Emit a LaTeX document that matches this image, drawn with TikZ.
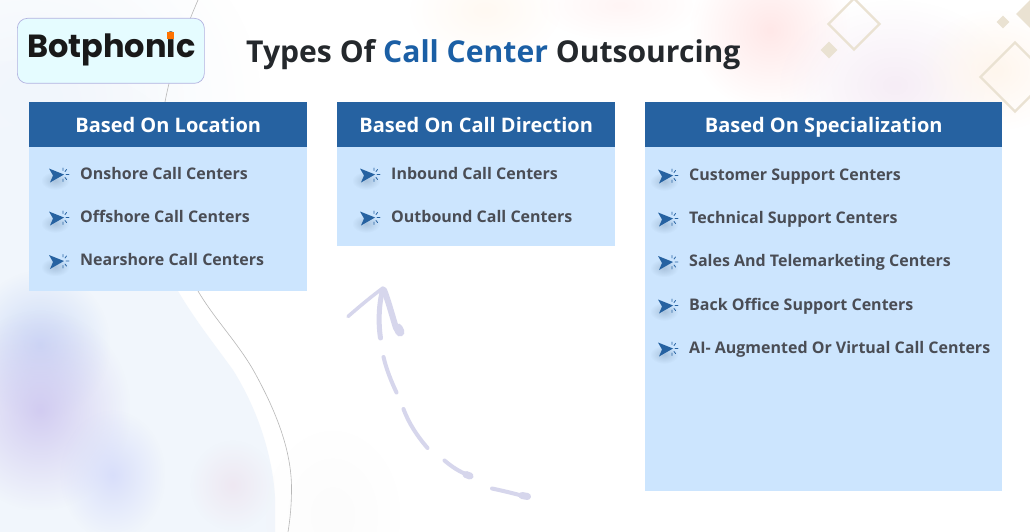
\documentclass[tikz,border=0pt]{standalone}
\usepackage{fontspec}
\setmainfont{Open Sans}
\newfontfamily\logofont{Poppins}
\usetikzlibrary{fadings,shapes.geometric}
\tikzfading[name=blob,inner color=transparent!0,outer color=transparent!100]
\definecolor{hdr}{HTML}{2662A1}
\definecolor{bodyc}{HTML}{CCE5FE}
\definecolor{itemc}{HTML}{4A4D55}
\definecolor{titlec}{HTML}{24282C}
\definecolor{accent}{HTML}{1B5FA5}
\definecolor{dia}{HTML}{EAE2D2}
\definecolor{arrowc}{HTML}{D6D6EC}
\definecolor{tint}{HTML}{F1F6FC}
\definecolor{lilac}{HTML}{CFC8F0}
\definecolor{bluish}{HTML}{BFD0F5}
\definecolor{peri}{HTML}{D6DCFA}
\definecolor{mauve}{HTML}{EEE8F2}
\tikzset{
  x=1pt,y=-1pt,
  hdrbox/.style={fill=hdr,text=white,anchor=north west,inner sep=0,font=\fontsize{20}{24}\selectfont\bfseries,text depth=0pt},
  panel/.style={fill=bodyc,anchor=north west,inner sep=0},
  item/.style={anchor=base west,inner sep=0,text=itemc,font=\fontsize{16}{20}\selectfont\bfseries},
  glow/.style={path fading=blob,fill=#1},
  outdia/.style={draw=dia,line width=2.4pt,line join=miter,fill=none},
  soliddia/.style={fill=dia},
  stroke/.style={draw=arrowc,line cap=round,line join=round,line width=#1},
  pics/dart/.style={code={
    \fill[black!55!hdr,opacity=.18,path fading=blob] (-16,-4) rectangle (12,14);
    \fill[hdr] (-8,-7) -- (7,-1) -- (-7,7) -- (-4,0) -- cycle;
    \draw[hdr,line width=.8pt,line cap=round] (9,-1)--(12,-1) (8,-4)--(9.5,-6) (8,2)--(9.5,4) (6,-5)--(6,-7.5) (6,3.5)--(6,6);
  }},
}
\begin{document}
\begin{tikzpicture}
\useasboundingbox (0,0) rectangle (1030,532);
\fill[white] (0,0) rectangle (1030,532);
% pale tint region
\fill[tint] (0,130) -- (160,130) -- (178,291) .. controls (195,320) and (215,345) .. (233,370) .. controls (255,405) and (272,450) .. (275,497) -- (275,532) -- (0,532) -- cycle;
\fill[glow=tint] (-200,-100) rectangle (260,300);
\fill[glow=tint] (-150,60) rectangle (200,320);
% blobs
\fill[glow=bluish,opacity=.75] (-30,270) rectangle (110,420);
\fill[glow=lilac,opacity=.9] (-50,310) rectangle (130,510);
\fill[glow=peri,opacity=.9] (60,410) rectangle (165,540);
\fill[glow=mauve] (190,440) rectangle (275,530);
\fill[glow=gray!8,opacity=.3] (265,430) rectangle (400,600);
% top right blobs
\fill[glow=red!9!white] (690,-50) rectangle (850,110);
\fill[glow=violet!7!white] (780,0) rectangle (1010,170);
\fill[glow=orange!7!white] (920,10) rectangle (1070,130);
\fill[glow=orange!5!white] (410,-40) rectangle (560,60);
\fill[glow=red!4!white] (540,-30) rectangle (700,40);
% thin curve
\draw[black!28,line width=.6pt] (198,0) .. controls (185,30) and (172,65) .. (165,102) .. controls (170,180) and (180,265) .. (198,291) .. controls (215,320) and (240,345) .. (256,375) .. controls (275,410) and (292,450) .. (291.5,490) .. controls (291.5,505) and (290,520) .. (288,532);
% diamonds
\node[diamond,outdia,minimum width=52,minimum height=52,inner sep=0] (d1) at (854,24) {};
\node[diamond,soliddia,minimum width=17,minimum height=17,inner sep=0] (d2) at (829,50) {};
\node[diamond,outdia,minimum width=70,minimum height=70,inner sep=0] (d3) at (1015,77) {};
\node[diamond,soliddia,minimum width=13,minimum height=13,inner sep=0] (d4) at (1003,22) {};
\node[diamond,soliddia,minimum width=28,minimum height=28,inner sep=0] (d5) at (1030,14) {};
% logo
\node[draw=black!40!blue!30!white,line width=.7pt,fill=blue!10!cyan!10!white,rounded corners=10,anchor=north west,minimum width=187,minimum height=65,inner sep=0] (logo) at (17,18) {};
\node[anchor=base west,inner sep=0,text=black!90,font=\logofont\fontsize{32}{36}\selectfont\bfseries] (logotext) at (27,57.5) {Botphonic};
\fill[orange!90!red] (167,32) rectangle (174,39);
% title
\node[anchor=base west,inner sep=0,text=titlec,font=\fontsize{30.1}{34}\selectfont\bfseries] (title) at (246,63) {Types Of \textcolor{accent}{Call Center} Outsourcing};
% panels
\node[panel,minimum width=278,minimum height=189] (p1) at (29,102) {};
\node[panel,minimum width=278,minimum height=144] (p2) at (337,102) {};
\node[panel,minimum width=357,minimum height=389] (p3) at (645,102) {};
\node[hdrbox,minimum width=278,minimum height=45,align=center] (h1) at (29,102) {Based On Location};
\node[hdrbox,minimum width=278,minimum height=45,align=center] (h2) at (337,102) {Based On Call Direction};
\node[hdrbox,minimum width=357,minimum height=45,align=center] (h3) at (645,102) {Based On Specialization};
% items
\foreach \yy/\t/\n in {173/Onshore Call Centers/a,216/Offshore Call Centers/b,259.5/Nearshore Call Centers/c}{
  \pic at (57,\yy+2.5) {dart};
  \node[item] (l\n) at (80,\yy+6.3) {\t};
}
\foreach \yy/\t/\n in {173/Inbound Call Centers/a,216/Outbound Call Centers/b}{
  \pic at (368,\yy+2.5) {dart};
  \node[item] (m\n) at (391,\yy+6.3) {\t};
}
\foreach \yy/\t/\n in {174/Customer Support Centers/a,217/Technical Support Centers/b,260.5/Sales And Telemarketing Centers/c,304/Back Office Support Centers/d,347/AI- Augmented Or Virtual Call Centers/e}{
  \pic at (666,\yy+2.5) {dart};
  \node[item] (r\n) at (689,\yy+6.3) {\t};
}
% hand-drawn arrow
\draw[stroke=3.5pt] (348,316.5) .. controls (360,306) and (372,296) .. (383,288);
\draw[stroke=5pt] (383,289) .. controls (379,302) and (378,322) .. (380.5,338);
\draw[stroke=6pt] (384,290) .. controls (388,300) and (392,315) .. (396,328);
\draw[stroke=9pt] (398,328) -- (400,332);
\draw[stroke=4pt] (383.5,357) .. controls (386,368) and (391,381) .. (396.5,392.5);
\draw[stroke=4pt] (403.5,409) .. controls (409,424) and (418,437) .. (427.5,448);
\draw[stroke=4pt] (444.5,460.5) .. controls (452,467) and (460,472) .. (468,475);
\draw[stroke=7pt] (466,474.5) -- (470,476);
\draw[stroke=4pt] (492,488.5) .. controls (504,491) and (516,494) .. (525,496.5);
\draw[stroke=7pt] (522,495.5) -- (527.5,496.5);
\end{tikzpicture}
\end{document}
